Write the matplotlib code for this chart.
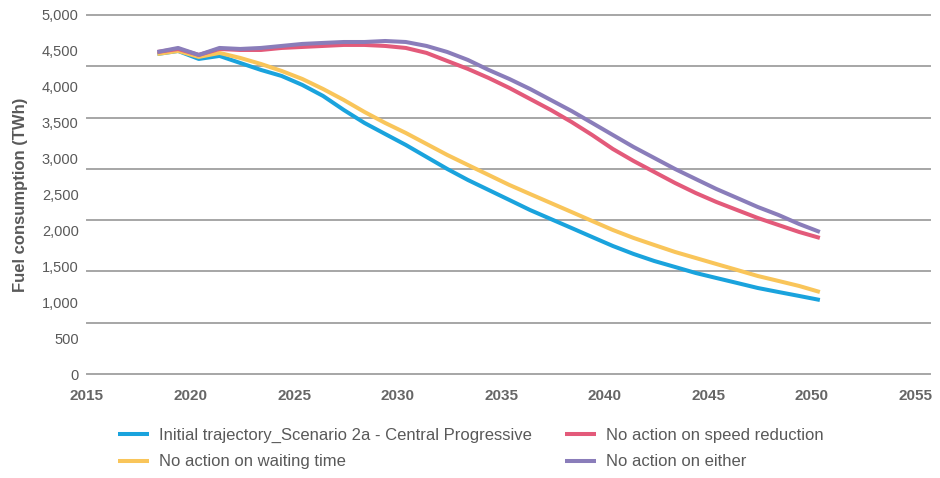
import numpy as np
import matplotlib
matplotlib.use("Agg")
import matplotlib.pyplot as plt

plt.rcParams['font.family'] = ['Liberation Sans', 'DejaVu Sans']

# annual values (TWh)
years = np.arange(2018, 2051)

initial = [4457, 4499, 4388, 4430, 4332, 4235, 4151, 4026, 3873, 3678, 3497,
           3343, 3190, 3023, 2856, 2702, 2563, 2424, 2284, 2159, 2034, 1908,
           1783, 1672, 1574, 1491, 1407, 1337, 1268, 1198, 1142, 1087, 1031]
no_waiting = [4457, 4499, 4416, 4472, 4402, 4318, 4221, 4109, 3970, 3817, 3650,
              3497, 3357, 3204, 3051, 2911, 2772, 2633, 2507, 2382, 2257, 2131,
              2006, 1895, 1797, 1700, 1616, 1532, 1449, 1365, 1296, 1226, 1142]
no_speed = [4485, 4527, 4444, 4527, 4513, 4513, 4541, 4555, 4569, 4583, 4583,
            4569, 4541, 4472, 4360, 4249, 4123, 3984, 3831, 3678, 3511, 3329,
            3134, 2967, 2814, 2661, 2521, 2396, 2284, 2173, 2075, 1978, 1895]
no_either = [4485, 4541, 4444, 4541, 4527, 4541, 4569, 4597, 4611, 4624, 4624,
             4638, 4624, 4569, 4485, 4374, 4235, 4109, 3970, 3817, 3664, 3497,
             3329, 3162, 3009, 2856, 2716, 2577, 2452, 2326, 2215, 2089, 1978]

series = [
    ("Initial trajectory_Scenario 2a - Central Progressive", initial, "#1aa3dd"),
    ("No action on waiting time", no_waiting, "#f9c55a"),
    ("No action on speed reduction", no_speed, "#e35a7a"),
    ("No action on either", no_either, "#8a7dba"),
]

x_ticks = np.arange(2015, 2056, 5)
y_ticks = np.arange(0, 5001, 500)

fig = plt.figure(figsize=(9.4, 4.78), dpi=100)
ax = fig.add_axes([87/940, 104/478, 843/940, 359/478])

x = years + 0.4  # points sit between the year ticks
for name, vals, col in series:
    ax.plot(x, vals, color=col, lw=2.9, label=name, solid_capstyle='butt',
            solid_joinstyle='round', zorder=3)

ax.set_xlim(2015.19, 2055.72)
ax.set_ylim(0, 5000)

# horizontal rules (7 bands, not aligned with the 500-step labels in the original)
for g in np.linspace(0, 5000, 8):
    ax.axhline(g, color='#a6a6a6', lw=1.4, clip_on=False, zorder=1)

ax.set_yticks(y_ticks)
ax.set_yticklabels([f"{v:,}" for v in y_ticks], fontsize=10.5, color='#595959')
ax.set_xticks(x_ticks)
ax.set_xticklabels([str(v) for v in x_ticks], fontsize=11, fontweight='bold',
                   color='#666666')
ax.tick_params(axis='both', which='both', length=0)
ax.tick_params(axis='y', pad=6)
ax.tick_params(axis='x', pad=11)

for s in ax.spines.values():
    s.set_visible(False)

ax.set_ylabel("Fuel consumption (TWh)", fontsize=12, fontweight='bold',
              color='#595959', labelpad=10)

fig.legend(loc='upper left', bbox_to_anchor=(118/940, 1 - 428/478), ncol=2,
           frameon=False, fontsize=12, handlelength=1.85, handletextpad=0.6,
           columnspacing=2.0, labelspacing=0.68, borderpad=0, borderaxespad=0,
           labelcolor='#595959')

fig.savefig("out.png", dpi=100)
